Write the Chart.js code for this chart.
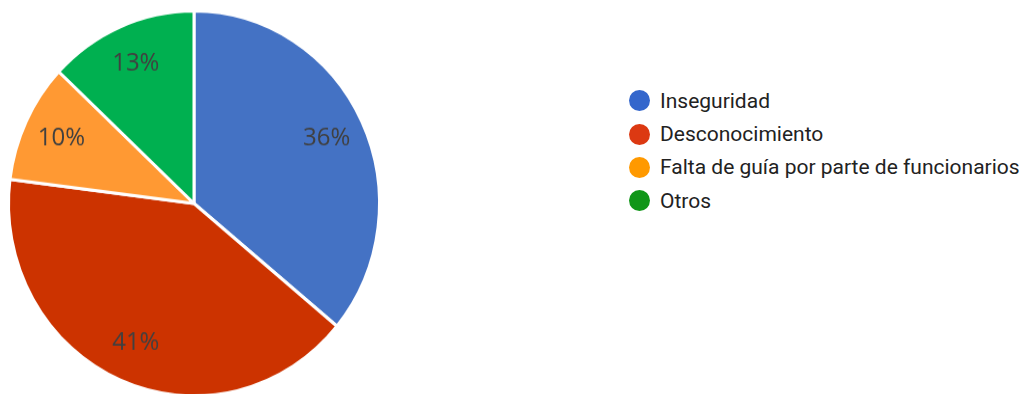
<!DOCTYPE html>
<html>
<head>
<meta charset="utf-8">
<script src="https://cdn.jsdelivr.net/npm/chart.js@4"></script>
<style>
  html, body { margin: 0; padding: 0; background: #fff; overflow: hidden; }
  #wrap { position: relative; width: 1031px; height: 394px; }
  /* the pie is drawn slightly taller than wide */
  #pieBox { position: absolute; left: 0; top: 0; width: 400px; height: 410px; transform: scaleY(1.038); transform-origin: 0 0; }
  #legend { position: absolute; left: 629px; top: 84px; font-family: Roboto, sans-serif; font-size: 21px; color: #222; }
  .item { display: flex; align-items: center; height: 33.4px; white-space: nowrap; }
  .dot { width: 21px; height: 21px; border-radius: 50%; margin-right: 10px; flex: none; }
</style>
</head>
<body>
<div id="wrap">
  <div id="pieBox"><canvas id="pie"></canvas></div>
  <div id="legend"></div>
</div>
<script>
const labels = ['Inseguridad', 'Desconocimiento', 'Falta de guía por parte de funcionarios', 'Otros']
const values = [36, 41, 10, 13]
const sliceColors = ['#4472C4', '#CC3300', '#FF9933', '#00B050']
const legendColors = ['#3366CC', '#DC3912', '#FF9900', '#109618']

// percentage text inside each slice
const sliceLabels = {
  id: 'sliceLabels',
  afterDatasetsDraw (chart) {
    const ctx = chart.ctx
    const meta = chart.getDatasetMeta(0)
    const total = values.reduce((a, b) => a + b, 0)
    ctx.save()
    ctx.font = '24px "Open Sans", sans-serif'
    ctx.fillStyle = '#404040'
    ctx.textAlign = 'center'
    ctx.textBaseline = 'middle'
    meta.data.forEach((arc, i) => {
      const mid = (arc.startAngle + arc.endAngle) / 2
      const r = arc.outerRadius * 0.79
      const x = arc.x + Math.cos(mid) * r
      const y = arc.y + Math.sin(mid) * r
      ctx.fillText(Math.round(values[i] / total * 100) + '%', x, y)
    })
    ctx.restore()
  }
}

new Chart(document.getElementById('pie'), {
  type: 'pie',
  data: {
    labels,
    datasets: [{
      data: values,
      backgroundColor: sliceColors,
      borderColor: '#fff',
      borderWidth: 3
    }]
  },
  options: {
    responsive: true,
    maintainAspectRatio: false,
    animation: false,
    layout: { padding: { left: 7, right: 19, top: 9, bottom: 27 } },
    plugins: {
      legend: { display: false },
      tooltip: { enabled: false }
    }
  },
  plugins: [sliceLabels]
})

const legend = document.getElementById('legend')
labels.forEach((label, i) => {
  const item = document.createElement('div')
  item.className = 'item'
  item.innerHTML = `<span class="dot" style="background:${legendColors[i]}"></span><span>${label}</span>`
  legend.appendChild(item)
})
</script>
</body>
</html>
